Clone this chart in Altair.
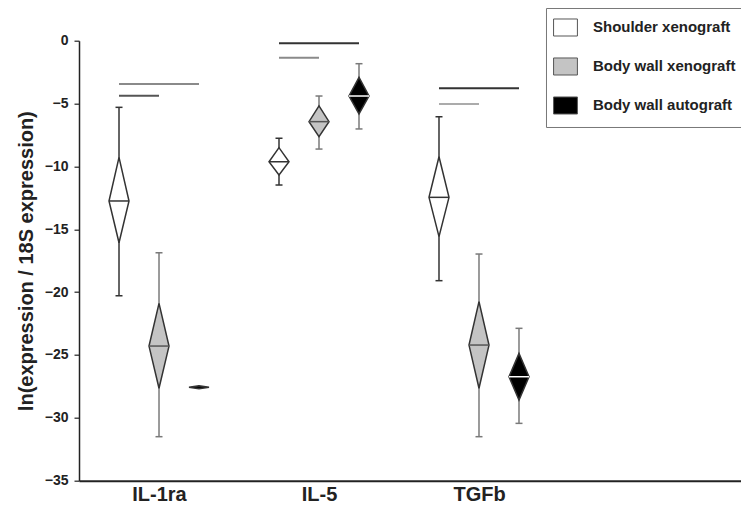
import altair as alt
import pandas as pd

# ---- data ----
categories = ["IL-1ra", "IL-5", "TGFb"]
series = ["Shoulder xenograft", "Body wall xenograft", "Body wall autograft"]

# per category, per series
means = [[-12.75, -24.29, -27.57], [-9.63, -6.44, -4.40], [-12.46, -24.21, -26.73]]
ci_hi = [[-9.28, -20.89, -27.57], [-8.51, -5.19, -2.91], [-9.23, -20.76, -24.87]]
ci_lo = [[-16.07, -27.65, -27.57], [-10.68, -7.64, -5.83], [-15.59, -27.65, -28.58]]
wh_hi = [[-5.30, -16.87, -27.57], [-7.76, -4.40, -1.83], [-6.05, -16.97, -22.88]]
wh_lo = [[-20.29, -31.50, -27.57], [-11.48, -8.62, -7.02], [-19.09, -31.50, -30.44]]

# significance bars
line_cat = [0, 0, 1, 1, 2, 2]
line_from = [0, 0, 0, 0, 0, 0]
line_to = [2, 1, 2, 1, 2, 1]
line_level = [-3.44, -4.38, -0.21, -1.35, -3.79, -5.04]
line_shade = ["mid", "dark", "black", "mid", "black", "light"]

# ---- layout helpers (not data) ----
OFFSETS = [-0.25, 0.0, 0.25]   # series offset within a category (x units)
HW = 0.0625                    # diamond half-width (x units)
MIN_HH = 0.12                  # minimum diamond half-height for visibility
FONT = "Liberation Sans"

rows, diam = [], []
for ci, cat in enumerate(categories):
    for si, s in enumerate(series):
        pos = ci + 1 + OFFSETS[si]
        m, hi, lo = means[ci][si], ci_hi[ci][si], ci_lo[ci][si]
        rows.append(dict(cat=cat, series=s, pos=pos, mean=m, hi=hi, lo=lo,
                         whi=wh_hi[ci][si], wlo=wh_lo[ci][si]))
        top = max(hi, m + MIN_HH)
        bot = min(lo, m - MIN_HH)
        key = f"{cat}|{s}"
        diam += [
            dict(key=key, series=s, y=top, xl=pos, xr=pos),
            dict(key=key, series=s, y=m, xl=pos - HW, xr=pos + HW),
            dict(key=key, series=s, y=bot, xl=pos, xr=pos),
        ]
df = pd.DataFrame(rows)
dd = pd.DataFrame(diam)

lines = pd.DataFrame(dict(
    xa=[line_cat[i] + 1 + OFFSETS[line_from[i]] for i in range(len(line_cat))],
    xb=[line_cat[i] + 1 + OFFSETS[line_to[i]] for i in range(len(line_cat))],
    y=line_level, shade=line_shade))

xscale = alt.Scale(domain=[0.5, 0.5 + 662 / 160], nice=False, zero=False)
yscale = alt.Scale(domain=[-35, 0], nice=False, zero=False)

label_expr = "[" + ",".join(f"'{c}'" for c in categories) + "][datum.value-1]"
xaxis = alt.Axis(values=[1, 2, 3], labelExpr=label_expr, title=None, ticks=False,
                 grid=False, domainColor="#222", domainWidth=2,
                 labelFont=FONT, labelFontSize=20, labelFontWeight="bold",
                 labelColor="#222", labelPadding=4)
yaxis = alt.Axis(values=list(range(-35, 1, 5)), title="ln(expression / 18S expression)",
                 grid=False, domainColor="#222", domainWidth=1.5, tickColor="#222",
                 tickSize=5, tickWidth=1.2, labelFont=FONT, labelFontSize=14,
                 labelFontWeight="bold", labelColor="#222", labelPadding=6,
                 titleFont=FONT, titleFontSize=20, titleFontWeight="bold",
                 titleColor="#222", titlePadding=8)

base = alt.Chart(df)

sig = alt.Chart(lines).mark_rule(strokeWidth=2).encode(
    x=alt.X("xa:Q", scale=xscale, axis=xaxis),
    x2="xb:Q",
    y=alt.Y("y:Q", scale=yscale, axis=yaxis),
    stroke=alt.Stroke("shade:N", legend=None,
                      scale=alt.Scale(domain=["black", "dark", "mid", "light"],
                                      range=["#333333", "#555555", "#8a8a8a", "#ababab"])),
)

wstroke = alt.Stroke("series:N", legend=None,
                     scale=alt.Scale(domain=series, range=["#333333", "#7a7a7a", "#7a7a7a"]))

whisk = base.mark_rule(strokeWidth=1.5).encode(
    x=alt.X("pos:Q", scale=xscale), y=alt.Y("whi:Q", scale=yscale),
    y2="wlo:Q", stroke=wstroke)
cap_hi = base.mark_rule(strokeWidth=1.5, xOffset=-3.5, x2Offset=3.5).encode(
    x=alt.X("pos:Q", scale=xscale), x2="pos:Q",
    y=alt.Y("whi:Q", scale=yscale), stroke=wstroke)
cap_lo = base.mark_rule(strokeWidth=1.5, xOffset=-3.5, x2Offset=3.5).encode(
    x=alt.X("pos:Q", scale=xscale), x2="pos:Q",
    y=alt.Y("wlo:Q", scale=yscale), stroke=wstroke)

diamonds = alt.Chart(dd).mark_area(orient="horizontal", stroke="#333333",
                                   strokeWidth=1.5, opacity=1).encode(
    y=alt.Y("y:Q", scale=yscale),
    x=alt.X("xl:Q", scale=xscale, stack=None),
    x2="xr:Q",
    detail="key:N",
    fill=alt.Fill("series:N",
                  scale=alt.Scale(domain=series, range=["#ffffff", "#c4c4c4", "#000000"]),
                  legend=alt.Legend(
                      title=None, orient="none", legendX=467, legendY=-32.7,
                      strokeColor="#777777", fillColor="#ffffff", padding=10,
                      symbolType="M-1.4,-1L1.4,-1L1.4,1L-1.4,1Z", symbolSize=290,
                      symbolStrokeColor="#555555", symbolStrokeWidth=1,
                      symbolOpacity=1, labelFont=FONT, labelFontSize=15,
                      labelFontWeight="bold", labelColor="#222", labelOffset=18,
                      rowPadding=16, labelLimit=300)),
)

mean_line = base.transform_filter("datum.hi > datum.mean").transform_calculate(
    ml=f"datum.pos - {HW}", mr=f"datum.pos + {HW}"
).mark_rule(strokeWidth=1.5).encode(
    x=alt.X("ml:Q", scale=xscale), x2="mr:Q",
    y=alt.Y("mean:Q", scale=yscale),
    stroke=alt.Stroke("series:N", legend=None,
                      scale=alt.Scale(domain=series, range=["#333333", "#555555", "#ffffff"])),
)

chart = alt.layer(sig, whisk, cap_hi, cap_lo, diamonds, mean_line).resolve_scale(
    stroke="independent"
).properties(
    width=662, height=440,
    background="white",
    autosize=alt.AutoSizeParams(type="none"),
    padding={"left": 71, "top": 32.7, "right": 0, "bottom": 38},
).configure_view(stroke="transparent", strokeWidth=0).configure_axis(grid=False)

chart.save("out.html", embed_options={"renderer": "svg", "actions": False})
